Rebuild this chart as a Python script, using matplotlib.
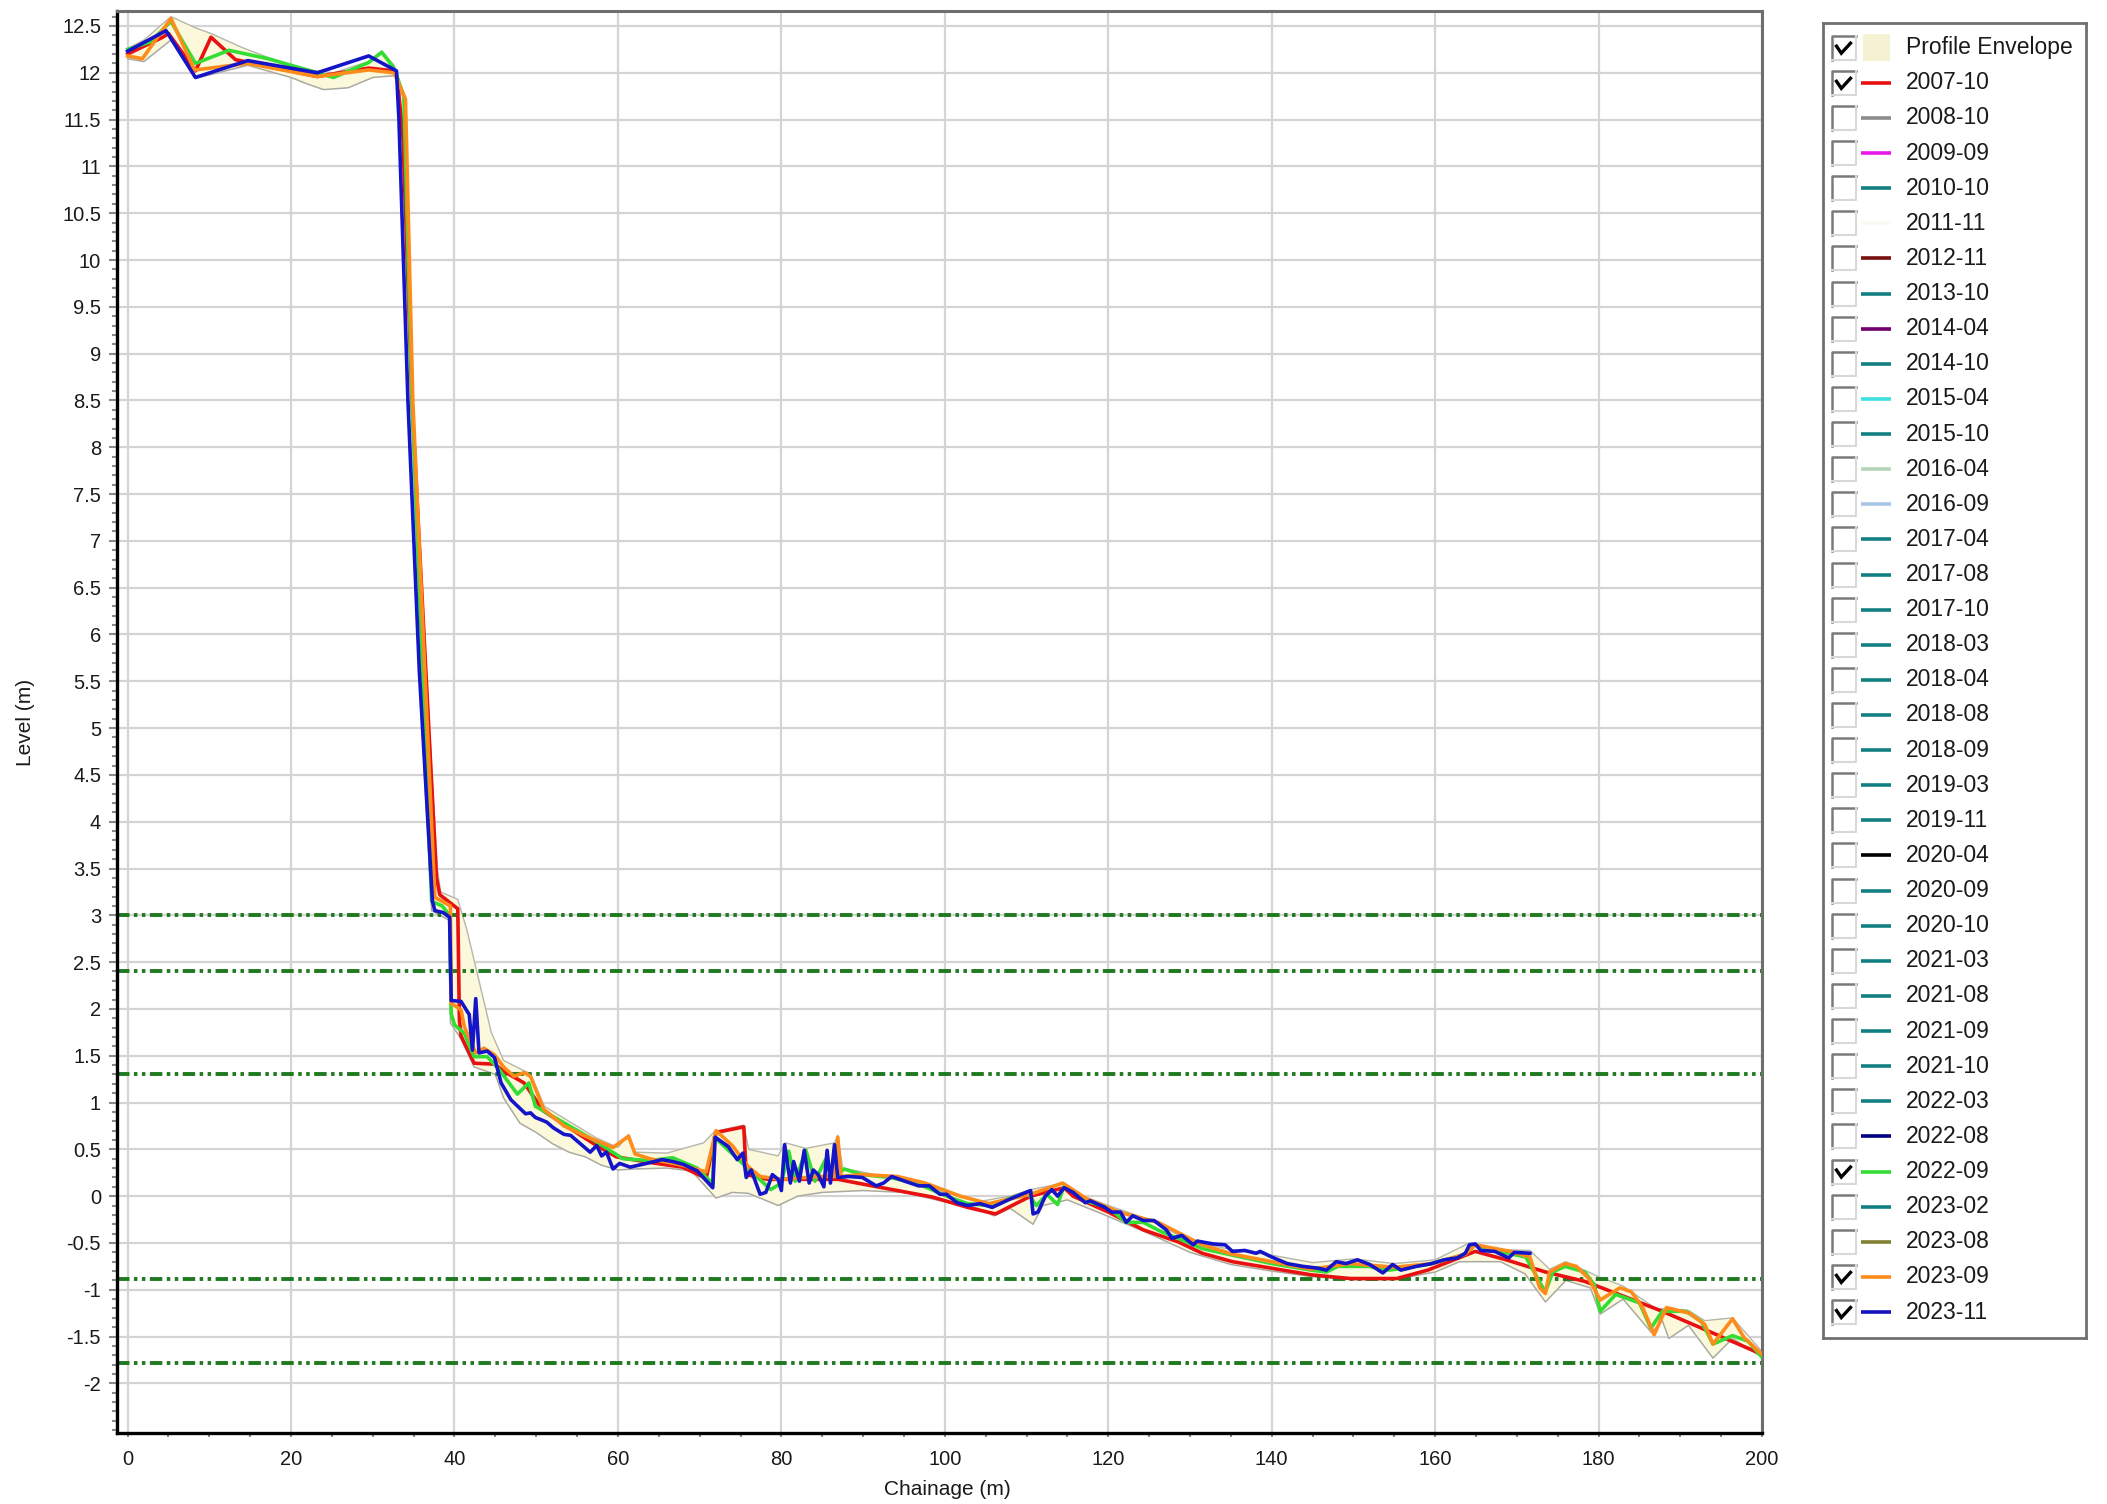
import numpy as np
import matplotlib.pyplot as plt
from matplotlib.patches import Rectangle
from matplotlib.ticker import MultipleLocator, FuncFormatter

plt.rcParams['font.family'] = ['Liberation Sans', 'DejaVu Sans']
plt.rcParams['axes.unicode_minus'] = False

# --- profile 2007-10 (red) ---
red_ch = [0, 4.3, 5.0, 8.3, 10.2, 13.2, 19.8, 23.2, 29.5, 32.6, 33.0, 33.7, 34.8, 36.5, 37.8, 38.2,
          40.4, 40.6, 40.8, 42.4, 44.9, 46.1, 48.5, 50.9, 54.2, 57.4, 59.8, 63.9, 67.9, 70.8, 72.0,
          75.4, 75.7, 78.3, 86.9, 89.9, 94.2, 98.5, 102.8, 106.2, 110.5, 114.6, 115.7, 120.0, 124.3,
          128.6, 131.5, 135.2, 140.0, 144.8, 149.6, 155.3, 159.1, 162.9, 164.9, 168.7, 173.5, 178.3,
          183.1, 187.8, 192.6, 200]
red_lv = [12.2, 12.38, 12.42, 12.02, 12.38, 12.14, 12.02, 11.96, 12.05, 12.02, 11.95, 11.3, 8.5, 5.6,
          3.4, 3.22, 3.07, 1.88, 1.71, 1.42, 1.41, 1.33, 1.21, 0.91, 0.72, 0.54, 0.42, 0.36, 0.31,
          0.19, 0.68, 0.74, 0.23, 0.18, 0.18, 0.13, 0.06, -0.01, -0.12, -0.19, 0.0, 0.09, 0.0, -0.17,
          -0.36, -0.49, -0.61, -0.70, -0.77, -0.84, -0.88, -0.88, -0.79, -0.66, -0.59, -0.68, -0.81,
          -0.91, -1.07, -1.23, -1.41, -1.69]

# --- profile 2022-09 (green) ---
grn_ch = [0, 2.8, 5.3, 8.3, 12.4, 17.2, 23.2, 25.2, 29.5, 31.1, 32.6, 33.8, 34.8, 37.2, 38.5, 39.4,
          39.6, 40.0, 41.2, 42.4, 44.0, 45.3, 47.7, 49.1, 49.9, 51.3, 57.4, 60.6, 63.9, 66.7, 69.7,
          71.6, 71.8, 74.4, 76.1, 78.7, 80.0, 80.9, 81.7, 83.0, 84.1, 85.4, 86.5, 87.7, 89.9, 93.3,
          96.8, 100.2, 102.8, 105.4, 110.1, 111.2, 112.5, 113.8, 114.6, 117.2, 120.0, 122.2, 124.3,
          126.5, 129.1, 131.5, 135.2, 140.0, 144.8, 146.7, 148.1, 151.9, 154.4, 159.1, 163.4, 164.9,
          167.8, 171.1, 173.0, 173.5, 174.4, 175.9, 178.3, 179.5, 180.2, 182.1, 185.0, 186.4, 187.8,
          190.7, 192.6, 194.0, 196.4, 198.3, 200.0]
grn_lv = [12.25, 12.33, 12.55, 12.1, 12.24, 12.15, 12.0, 11.95, 12.11, 12.22, 12.05, 11.75, 8.5, 3.15,
          3.1, 3.0, 1.95, 1.83, 1.74, 1.49, 1.49, 1.37, 1.09, 1.21, 0.96, 0.89, 0.58, 0.40, 0.38,
          0.41, 0.30, 0.13, 0.63, 0.42, 0.28, 0.07, 0.14, 0.48, 0.16, 0.49, 0.16, 0.39, 0.21, 0.29,
          0.23, 0.20, 0.13, 0.0, -0.08, -0.10, 0.04, -0.10, 0.02, -0.09, 0.11, -0.05, -0.12, -0.28,
          -0.28, -0.38, -0.47, -0.56, -0.63, -0.72, -0.79, -0.81, -0.75, -0.75, -0.79, -0.73, -0.63,
          -0.52, -0.59, -0.65, -0.95, -1.02, -0.81, -0.75, -0.81, -0.95, -1.23, -1.05, -1.14, -1.41,
          -1.23, -1.23, -1.34, -1.58, -1.49, -1.55, -1.72]

# --- profile 2023-09 (orange) ---
org_ch = [0, 1.8, 5.3, 8.2, 14.7, 23.2, 29.5, 32.6, 34.0, 34.9, 37.6, 38.5, 39.5, 39.6, 40.8, 41.2,
          42.6, 43.6, 44.9, 46.1, 47.3, 48.5, 49.3, 50.9, 53.4, 55.8, 59.4, 61.3, 62.1, 63.9, 67.9,
          70.8, 72.0, 74.0, 76.0, 77.4, 80.0, 84.7, 86.5, 86.9, 87.3, 89.9, 94.2, 97.6, 101.9, 105.4,
          110.5, 114.4, 117.4, 121.3, 126.1, 131.5, 135.2, 140.0, 144.8, 149.6, 155.0, 159.6, 163.7,
          164.9, 169.2, 171.6, 172.8, 173.5, 174.0, 175.9, 177.3, 178.8, 180.2, 182.6, 184.0, 185.4,
          186.8, 188.3, 191.1, 193.0, 194.0, 196.4, 197.8, 200.0]
org_lv = [12.18, 12.15, 12.58, 12.03, 12.1, 11.96, 12.03, 12.0, 11.72, 8.5, 3.19, 3.15, 3.1, 2.06,
          1.99, 1.81, 1.53, 1.58, 1.51, 1.37, 1.28, 1.32, 1.28, 0.93, 0.75, 0.65, 0.52, 0.64, 0.45,
          0.40, 0.33, 0.26, 0.70, 0.54, 0.31, 0.21, 0.18, 0.21, 0.21, 0.63, 0.21, 0.23, 0.21, 0.14,
          0.0, -0.08, 0.02, 0.14, -0.03, -0.17, -0.28, -0.52, -0.62, -0.70, -0.78, -0.72, -0.76,
          -0.72, -0.62, -0.52, -0.59, -0.65, -0.98, -1.04, -0.81, -0.72, -0.75, -0.88, -1.11, -0.98,
          -1.02, -1.19, -1.48, -1.19, -1.25, -1.37, -1.58, -1.31, -1.51, -1.69]

# --- profile 2023-11 (blue) ---
blu_ch = [0, 4.7, 8.3, 14.7, 23.2, 29.5, 32.9, 33.2, 34.3, 35.7, 37.3, 37.6, 38.6, 39.4, 39.6, 40.8,
          41.8, 42.2, 42.6, 43.0, 44.0, 44.9, 45.7, 46.9, 48.1, 48.7, 49.3, 49.9, 50.5, 51.3, 52.1,
          53.4, 54.2, 55.4, 56.6, 57.4, 58.0, 58.6, 59.4, 60.2, 61.5, 63.5, 65.4, 66.7, 68.0, 69.7,
          71.6, 71.9, 73.5, 74.6, 75.3, 75.7, 76.3, 77.4, 78.1, 78.9, 79.6, 80.0, 80.4, 81.1, 81.5,
          82.2, 82.8, 83.4, 83.9, 84.5, 85.2, 85.6, 86.0, 86.5, 86.9, 88.2, 89.9, 91.6, 92.5, 93.5,
          95.1, 96.8, 98.1, 99.4, 100.2, 101.5, 102.8, 104.3, 105.8, 108.0, 110.5, 110.8, 111.4,
          112.3, 113.1, 113.8, 114.6, 115.7, 117.2, 117.8, 119.6, 120.4, 121.5, 122.2, 123.0, 124.3,
          125.6, 127.1, 127.8, 129.0, 130.4, 130.9, 132.8, 134.3, 135.2, 136.7, 138.1, 138.6, 140.0,
          141.9, 143.8, 145.7, 146.7, 147.9, 149.1, 150.5, 152.0, 153.6, 154.8, 155.8, 157.7, 159.6,
          161.1, 162.7, 163.7, 164.2, 164.9, 165.6, 167.3, 169.0, 169.7, 171.6]
blu_lv = [12.23, 12.45, 11.95, 12.13, 12.0, 12.18, 12.02, 11.5, 8.5, 5.6, 3.15, 3.05, 3.03, 2.98,
          2.09, 2.08, 1.94, 1.56, 2.11, 1.53, 1.55, 1.48, 1.21, 1.03, 0.93, 0.88, 0.89, 0.84, 0.82,
          0.79, 0.73, 0.66, 0.65, 0.56, 0.47, 0.54, 0.43, 0.47, 0.29, 0.35, 0.31, 0.35, 0.39, 0.37,
          0.34, 0.27, 0.09, 0.63, 0.53, 0.39, 0.46, 0.20, 0.28, 0.02, 0.04, 0.23, 0.18, 0.06, 0.55,
          0.14, 0.37, 0.16, 0.49, 0.14, 0.28, 0.23, 0.10, 0.49, 0.14, 0.55, 0.20, 0.21, 0.20, 0.11,
          0.14, 0.21, 0.16, 0.11, 0.11, 0.02, 0.02, -0.07, -0.10, -0.08, -0.12, -0.03, 0.06, -0.19,
          -0.17, 0.0, 0.07, 0.0, 0.09, 0.04, -0.07, -0.05, -0.12, -0.17, -0.17, -0.28, -0.21, -0.26,
          -0.26, -0.36, -0.45, -0.42, -0.52, -0.48, -0.51, -0.52, -0.59, -0.58, -0.61, -0.59, -0.65,
          -0.72, -0.75, -0.77, -0.79, -0.70, -0.72, -0.68, -0.73, -0.82, -0.73, -0.79, -0.75, -0.72,
          -0.68, -0.66, -0.61, -0.52, -0.51, -0.58, -0.59, -0.66, -0.60, -0.61]

# --- profile envelope (max / min of all surveys) ---
env_hi_ch = [0, 2, 5.3, 8.3, 10.2, 14, 17, 20, 23, 25.2, 29.5, 31.1, 32.6, 33.7, 34.8, 36.5, 37.9,
             38.3, 40.4, 41.5, 43, 44.5, 46, 48.5, 49.3, 51, 54, 57.4, 60, 61.3, 62.1, 66, 70.5,
             71.8, 75.4, 76, 79.6, 80.5, 83, 86.5, 86.9, 87.5, 92, 96, 100, 104, 108, 110.5, 114.6,
             117, 120, 125, 130, 135, 140, 145, 150, 155, 160, 164.2, 168, 171.6, 174, 176, 180,
             183, 187, 191, 193, 196.4, 200]
env_hi = [12.26, 12.35, 12.6, 12.48, 12.42, 12.27, 12.17, 12.08, 12.02, 12.0, 12.12, 12.23, 12.08,
          11.5, 8.6, 5.7, 3.5, 3.25, 3.17, 2.85, 2.3, 1.75, 1.45, 1.34, 1.31, 0.96, 0.8, 0.62, 0.52,
          0.66, 0.47, 0.46, 0.57, 0.69, 0.76, 0.5, 0.43, 0.57, 0.51, 0.57, 0.65, 0.3, 0.22, 0.16,
          0.04, -0.06, 0.0, 0.07, 0.14, 0.0, -0.1, -0.25, -0.48, -0.57, -0.63, -0.71, -0.67,
          -0.72, -0.68, -0.5, -0.57, -0.58, -0.78, -0.7, -0.86, -0.96, -1.2, -1.22, -1.33, -1.3,
          -1.66]
env_lo_ch = [0, 2, 5.3, 8.3, 14.7, 20, 22, 24, 27, 30, 32.9, 33.2, 34.3, 35.7, 37.2, 39.3, 39.5,
             40.8, 42.4, 45, 46, 48, 50, 52, 54, 56, 58, 60, 62, 66, 69, 72, 74, 76, 79.6, 82, 85,
             90, 95, 100, 104, 106, 108, 110.8, 112, 115, 119, 125, 130, 135, 140, 145, 150, 155,
             160, 163, 168, 171, 173.5, 176, 179, 180.2, 183, 186.5, 187.8, 188.6, 191, 194, 196.4,
             200]
env_lo = [12.15, 12.12, 12.35, 11.94, 12.08, 11.95, 11.88, 11.82, 11.84, 11.95, 11.97, 11.45, 8.45,
          5.55, 3.05, 2.95, 1.85, 1.68, 1.38, 1.3, 1.05, 0.78, 0.68, 0.56, 0.47, 0.42, 0.33, 0.28,
          0.29, 0.3, 0.27, -0.02, 0.04, 0.03, -0.1, 0.0, 0.04, 0.06, 0.04, -0.06, -0.13, -0.21,
          -0.13, -0.3, -0.1, -0.04, -0.18, -0.4, -0.6, -0.73, -0.8, -0.86, -0.89, -0.89, -0.81,
          -0.7, -0.7, -0.83, -1.13, -0.9, -0.98, -1.26, -1.1, -1.46, -1.33, -1.52, -1.38, -1.73,
          -1.52, -1.72]

# reference levels (dash-dot-dot)
ref_levels = [3.0, 2.4, 1.3, -0.89, -1.78]

# legend entries
legend_names = ['Profile Envelope', '2007-10', '2008-10', '2009-09', '2010-10', '2011-11', '2012-11',
                '2013-10', '2014-04', '2014-10', '2015-04', '2015-10', '2016-04', '2016-09',
                '2017-04', '2017-08', '2017-10', '2018-03', '2018-04', '2018-08', '2018-09',
                '2019-03', '2019-11', '2020-04', '2020-09', '2020-10', '2021-03', '2021-08',
                '2021-09', '2021-10', '2022-03', '2022-08', '2022-09', '2023-02', '2023-08',
                '2023-09', '2023-11']
TEAL = '#128080'
legend_colors = ['#f4f2d2', '#e81010', '#8c8c8c', '#e818e8', TEAL, '#fafaf0', '#7a1010', TEAL,
                 '#700070', TEAL, '#40e0e0', TEAL, '#b8d4b8', '#a8c8e8', TEAL, TEAL, TEAL, TEAL,
                 TEAL, TEAL, TEAL, TEAL, TEAL, '#000000', TEAL, TEAL, TEAL, TEAL, TEAL, TEAL, TEAL,
                 '#000080', '#33dd33', TEAL, '#808030', '#ff8c1a', '#1414c0']
legend_checked = ['Profile Envelope', '2007-10', '2022-09', '2023-09', '2023-11']

W, H = 2107, 1504
fig = plt.figure(figsize=(W / 100, H / 100), dpi=100)
ax = fig.add_axes([117 / W, 1 - 1433 / H, (1762 - 117) / W, (1433 - 11) / H])

# envelope
poly_x = np.concatenate([env_hi_ch, env_lo_ch[::-1]])
poly_y = np.concatenate([env_hi, env_lo[::-1]])
ax.fill(poly_x, poly_y, color='#fbf8dc', lw=0, zorder=1)
ax.plot(env_hi_ch, env_hi, color='#b6b6aa', lw=1.0, zorder=1.5)
ax.plot(env_lo_ch, env_lo, color='#aaaaa0', lw=1.1, zorder=1.5)

for lv in ref_levels:
    ax.axhline(lv, color='#1f7a1f', lw=2.8, zorder=2,
               linestyle=(0, (3.2, 1.15, 0.9, 1.15, 0.9, 1.15)))

lw = 2.6
ax.plot(red_ch, red_lv, color='#e81010', lw=lw, zorder=3)
ax.plot(grn_ch, grn_lv, color='#33dd33', lw=lw, zorder=3)
ax.plot(org_ch, org_lv, color='#ff8c1a', lw=lw, zorder=3)
ax.plot(blu_ch, blu_lv, color='#1414c8', lw=lw, zorder=3)

ax.set_xlim(-1.3, 200)
ax.set_ylim(-2.53, 12.66)
ax.xaxis.set_major_locator(MultipleLocator(20))
ax.xaxis.set_minor_locator(MultipleLocator(5))
ax.set_yticks(np.arange(-2, 12.51, 0.5))
ax.yaxis.set_minor_locator(MultipleLocator(0.1))
ax.yaxis.set_major_formatter(FuncFormatter(lambda v, p: f'{v:g}'))
ax.grid(True, which='major', color='#d4d4d4', lw=1.6, zorder=0)
ax.set_axisbelow(True)

ax.tick_params(axis='y', which='major', length=5.5, width=1.5, color='#8a8a8a', pad=6,
               labelsize=14.5, labelcolor='#1a1a1a')
ax.tick_params(axis='y', which='minor', length=3.5, width=1.5, color='#8a8a8a')
ax.tick_params(axis='x', which='both', length=3, width=1.5, color='#8a8a8a', pad=9,
               labelsize=14.5, labelcolor='#1a1a1a')

for side in ['left', 'bottom']:
    ax.spines[side].set_color('black')
    ax.spines[side].set_linewidth(2.4)
for side in ['top', 'right']:
    ax.spines[side].set_color('#6e6e6e')
    ax.spines[side].set_linewidth(2.2)

ax.set_xlabel('Chainage (m)', fontsize=15, color='#1a1a1a')
ax.xaxis.set_label_coords(0.5046, -0.0394)
ax.xaxis.label.set_verticalalignment('center')
ax.set_ylabel('Level (m)', fontsize=15, color='#1a1a1a')
ax.yaxis.set_label_coords(-0.0559, 0.5)
ax.yaxis.label.set_verticalalignment('center')

# legend with check boxes
lg = fig.add_axes([1823 / W, 1 - 1338.3 / H, 263 / W, 1315.6 / H])
lg.set_xlim(0, 263)
lg.set_ylim(1315.6, 0)
lg.set_xticks([])
lg.set_yticks([])
for s in lg.spines.values():
    s.set_color('#707070')
    s.set_linewidth(2)

row_gap = 35.12
for i, (name, col) in enumerate(zip(legend_names, legend_colors)):
    yc = 25 + i * row_gap
    bx, by = 9, yc - 12
    lg.add_patch(Rectangle((bx, by), 24, 24, facecolor='white', edgecolor='none'))
    lg.plot([bx, bx, bx + 24], [by + 24, by, by], color='#7a7a7a', lw=1.8)
    lg.plot([bx + 24, bx + 24, bx], [by, by + 24, by + 24], color='#d8d8d8', lw=1.5)
    if name in legend_checked:
        lg.plot([bx + 4.5, bx + 9.3, bx + 18.5], [by + 10.5, by + 17.5, by + 7.5],
                color='black', lw=2.4, solid_joinstyle='miter')
    if i == 0:
        lg.add_patch(Rectangle((40, yc - 13.5), 27, 27, facecolor=col, edgecolor='none'))
    else:
        lg.plot([38, 68], [yc, yc], color=col, lw=2.6, solid_capstyle='butt')
    lg.text(83, yc, name, fontsize=16.5, va='center', ha='left', color='#1a1a1a')

fig.savefig('out.png', dpi=100)
